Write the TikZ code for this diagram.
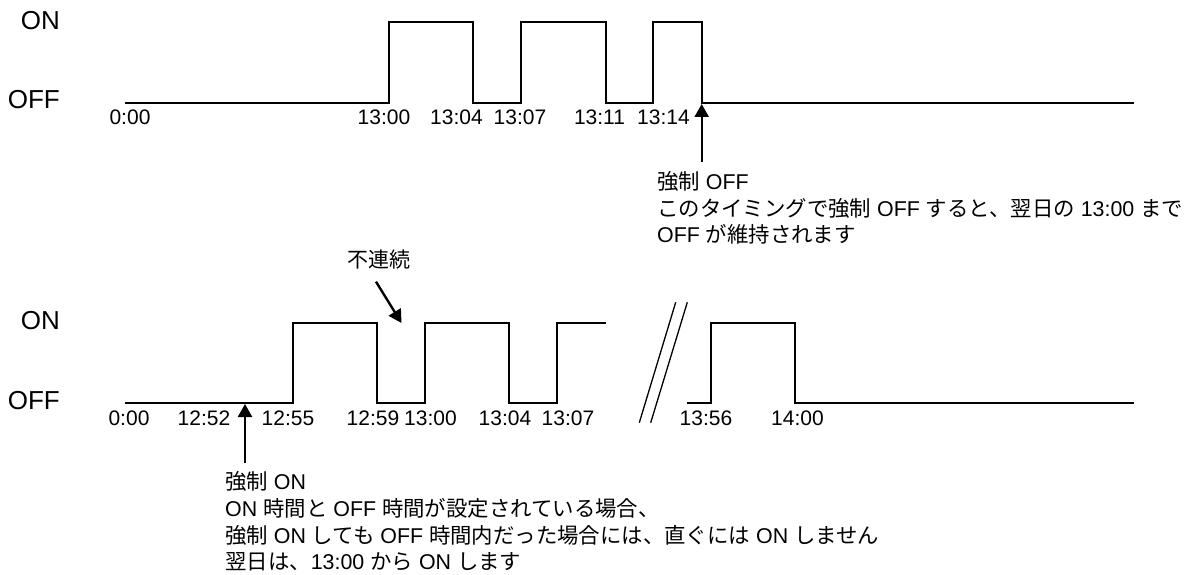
\documentclass[tikz,border=0pt]{standalone}
\usepackage{fontspec}
\setmainfont{Liberation Sans}
\newfontfamily\jpfont{Noto Sans CJK JP}
\newcommand\jtxt[1]{{\jpfont #1}}
\usetikzlibrary{arrows.meta}
\begin{document}
\begin{tikzpicture}[x=1pt,y=-1pt,
  wave/.style={line width=1.7pt},
  brk/.style={line width=1.3pt},
  pointer/.style={line width=2.4pt,-{Triangle[length=13pt,width=14pt]}},
  lvl/.style={anchor=base east,inner sep=0pt,font=\fontsize{26}{30}\selectfont},
  tlab/.style={anchor=base,inner sep=0pt,font=\fontsize{21}{25}\selectfont},
  note/.style={anchor=base west,inner sep=0pt,font=\fontsize{21.4}{25}\selectfont}]
\useasboundingbox (0,0) rectangle (1186,575);
% ---------- top chart ----------
\node[lvl] (onA) at (60,29.3) {ON};
\node[lvl] (offA) at (60,108.8) {OFF};
\draw[wave] (125,102.7) -- (389,102.7) -- (389,22.3) -- (473.3,22.3) -- (473.3,102.7)
  -- (521,102.7) -- (521,22.3) -- (605.7,22.3) -- (605.7,102.7)
  -- (653.3,102.7) -- (653.3,22.3) -- (701.7,22.3) -- (701.7,102.7) -- (1134,102.7);
\coordinate (offpt) at (701.7,104);
\node[tlab] (ta0) at (130,124.8) {0:00};
\node[tlab] (ta1) at (384,124.8) {13:00};
\node[tlab] (ta2) at (456.5,124.8) {13:04};
\node[tlab] (ta3) at (520,124.8) {13:07};
\node[tlab] (ta4) at (599.5,124.8) {13:11};
\node[tlab] (ta5) at (663.5,124.8) {13:14};
\coordinate (offtail) at (701.7,162);
\draw[pointer] (offtail) -- (offpt);
\node[note] (offn1) at (657,189.5) {\jtxt{強制} OFF};
\node[note] (offn2) at (657,216) {\jtxt{このタイミングで強制} OFF \jtxt{すると、翌日の} 13:00 \jtxt{まで}};
\node[note] (offn3) at (657,242.5) {OFF \jtxt{が維持されます}};
% ---------- bottom chart ----------
\node[lvl] (onB) at (60,329.3) {ON};
\node[lvl] (offB) at (60,409.3) {OFF};
\draw[wave] (125,402.7) -- (293.3,402.7) -- (293.3,322.7) -- (377.3,322.7) -- (377.3,402.7)
  -- (425,402.7) -- (425,322.7) -- (509.3,322.7) -- (509.3,402.7)
  -- (556.7,402.7) -- (556.7,322.7) -- (605.7,322.7);
\draw[wave] (686.7,402.7) -- (711,402.7) -- (711,322.7) -- (795,322.7) -- (795,402.7) -- (1134,402.7);
\draw[brk] (639.3,422.7) -- (675.7,302.3);
\draw[brk] (650.7,422.7) -- (687.3,302.3);
\node[tlab] (tb0) at (129,425.2) {0:00};
\node[tlab] (tb1) at (204,425.2) {12:52};
\node[tlab] (tb2) at (288,425.2) {12:55};
\node[tlab] (tb3) at (373,425.2) {12:59};
\node[tlab] (tb4) at (430.5,425.2) {13:00};
\node[tlab] (tb5) at (505,425.2) {13:04};
\node[tlab] (tb6) at (568,425.2) {13:07};
\node[tlab] (tb7) at (706,425.2) {13:56};
\node[tlab] (tb8) at (797.5,425.2) {14:00};
\node[tlab] (disc) at (378.5,267.6) {\jtxt{不連続}};
\coordinate (disctail) at (376,281.7);
\coordinate (discpt) at (401.5,323);
\draw[pointer] (disctail) -- (discpt);
\coordinate (onpt) at (245,404);
\coordinate (ontail) at (245,463);
\draw[pointer] (ontail) -- (onpt);
\node[note] (onn1) at (225,489.5) {\jtxt{強制} ON};
\node[note] (onn2) at (225,516) {ON \jtxt{時間と} OFF \jtxt{時間が設定されている場合、}};
\node[note] (onn3) at (225,543) {\jtxt{強制} ON \jtxt{しても} OFF \jtxt{時間内だった場合には、直ぐには} ON \jtxt{しません}};
\node[note] (onn4) at (225,569.5) {\jtxt{翌日は、}13:00 \jtxt{から} ON \jtxt{します}};
\end{tikzpicture}
\end{document}
